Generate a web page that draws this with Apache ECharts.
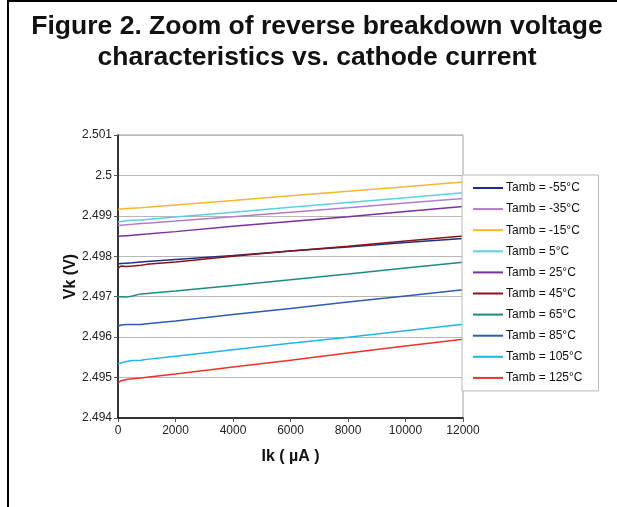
<!DOCTYPE html>
<html><head><meta charset="utf-8">
<script src="https://cdn.jsdelivr.net/npm/echarts@6/dist/echarts.min.js"></script>
<style>html,body{margin:0;padding:0;background:#fff}#c{width:617px;height:507px}</style>
</head><body><div id="c"></div>
<script>
const currents = [0, 100, 300, 500, 800, 1000, 2000, 4000, 6000, 8000, 10000, 12000];
const seriesNames = ['Tamb = -55°C','Tamb = -35°C','Tamb = -15°C','Tamb = 5°C','Tamb = 25°C','Tamb = 45°C','Tamb = 65°C','Tamb = 85°C','Tamb = 105°C','Tamb = 125°C'];
const vM55  = [2.49781,2.49782,2.49783,2.49784,2.49786,2.49787,2.49792,2.49802,2.49813,2.49823,2.49834,2.49844];
const vM35  = [2.49876,2.49877,2.49878,2.49879,2.49881,2.49882,2.49887,2.49898,2.49909,2.49920,2.49932,2.49943];
const vM15  = [2.49916,2.49917,2.49918,2.49919,2.49920,2.49921,2.49927,2.49938,2.49950,2.49961,2.49972,2.49984];
const vP5   = [2.49884,2.49886,2.49888,2.49889,2.49890,2.49891,2.49897,2.49909,2.49921,2.49933,2.49945,2.49957];
const vP25  = [2.49849,2.49850,2.49851,2.49852,2.49854,2.49855,2.49861,2.49874,2.49886,2.49898,2.49911,2.49923];
const vP45  = [2.49770,2.49776,2.49775,2.49776,2.49778,2.49780,2.49786,2.49800,2.49813,2.49825,2.49838,2.49850];
const vP65  = [2.49700,2.49700,2.49699,2.49702,2.49707,2.49708,2.49714,2.49728,2.49742,2.49756,2.49771,2.49785];
const vP85  = [2.49627,2.49630,2.49631,2.49631,2.49631,2.49633,2.49640,2.49656,2.49671,2.49687,2.49702,2.49717];
const vP105 = [2.49534,2.49536,2.49540,2.49542,2.49543,2.49545,2.49553,2.49569,2.49585,2.49600,2.49616,2.49632];
const vP125 = [2.49487,2.49492,2.49495,2.49497,2.49499,2.49501,2.49509,2.49526,2.49543,2.49561,2.49578,2.49595];
const allValues = [vM55, vM35, vM15, vP5, vP25, vP45, vP65, vP85, vP105, vP125];
const colors = ['#1f2f86','#b27cc8','#f8b62c','#5cd0df','#7c2f9f','#8a1518','#1c8a84','#2b5db5','#1cb6ec','#ee3129'];

const chart = echarts.init(document.getElementById('c'), null, {renderer: 'canvas'});
const series = seriesNames.map((n, i) => ({
  name: n, type: 'line', symbol: 'none', smooth: false,
  lineStyle: {width: 1.5, color: colors[i]}, itemStyle: {color: colors[i]},
  data: currents.map((x, j) => [x, allValues[i][j]])
}));
chart.setOption({
  animation: false,
  title: {
    text: 'Figure 2. Zoom of reverse breakdown voltage\ncharacteristics vs. cathode current',
    top: 6, left: 312,
    textAlign: 'center',
    textStyle: {fontFamily: 'Liberation Sans', fontWeight: 'bold', fontSize: 26.5, lineHeight: 31, color: '#111'}
  },
  grid: {left: 118, right: 154, top: 135, bottom: 89, show: true, borderColor: '#a0a0a0', borderWidth: 1},
  xAxis: {
    type: 'value', min: 0, max: 12000, interval: 2000,
    name: 'Ik ( µA )', nameLocation: 'middle', nameGap: 31,
    nameTextStyle: {fontFamily: 'Liberation Sans', fontWeight: 'bold', fontSize: 16, color: '#111'},
    axisLine: {show: true, onZero: false, lineStyle: {color: '#000', width: 1.5}},
    axisTick: {show: true, length: 4, lineStyle: {color: '#555'}},
    splitLine: {show: false},
    axisLabel: {fontFamily: 'Liberation Sans', fontSize: 12, color: '#222', margin: 7,
      formatter: v => String(v)}
  },
  yAxis: {
    type: 'value', min: 2.494, max: 2.501, interval: 0.001,
    name: 'Vk (V)', nameLocation: 'middle', nameGap: 39, nameRotate: 90, nameMoveOverlap: false,
    nameTextStyle: {fontFamily: 'Liberation Sans', fontWeight: 'bold', fontSize: 16, color: '#111'},
    axisLine: {show: true, lineStyle: {color: '#000', width: 1.5}},
    axisTick: {show: true, length: 4, lineStyle: {color: '#555'}},
    splitLine: {show: true, lineStyle: {color: '#b8b8b8', width: 1}},
    axisLabel: {fontFamily: 'Liberation Sans', fontSize: 12, color: '#222', margin: 6,
      formatter: v => String(Number(v.toFixed(3)))}
  },
  legend: {
    orient: 'vertical', left: 462, top: 175,
    itemWidth: 30, itemHeight: 2, itemGap: 9.1, icon: 'rect',
    backgroundColor: '#fff', borderColor: '#b8b8b8', borderWidth: 1, borderRadius: 0,
    padding: [7, 16, 7, 11],
    textStyle: {fontFamily: 'Liberation Sans', fontSize: 12, color: '#111', padding: [0,0,0,-2]},
    data: seriesNames
  },
  graphic: [
    {type: 'line', shape: {x1: 8, y1: 0, x2: 8, y2: 507}, style: {stroke: '#000', lineWidth: 2}},
    {type: 'line', shape: {x1: 8, y1: 1, x2: 617, y2: 1}, style: {stroke: '#000', lineWidth: 2}}
  ],
  series: series
});
</script></body></html>
